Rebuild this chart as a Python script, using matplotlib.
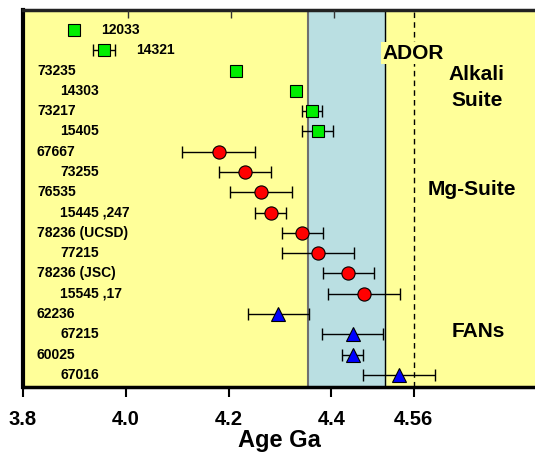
import numpy as np
import matplotlib
matplotlib.use("Agg")
import matplotlib.pyplot as plt

plt.rcParams['font.family'] = ['Liberation Sans', 'DejaVu Sans']
plt.rcParams['font.weight'] = 'bold'

# sample data, top to bottom
samples = ['12033', '14321', '73235', '14303', '73217', '15405',
           '67667', '73255', '76535', '15445 ,247', '78236 (UCSD)', '77215',
           '78236 (JSC)', '15545 ,17', '62236', '67215', '60025', '67016']
ages = [3.899, 3.958, 4.214, 4.332, 4.362, 4.373,
        4.181, 4.232, 4.263, 4.282, 4.343, 4.373,
        4.433, 4.463, 4.297, 4.441, 4.441, 4.532]
errs = [0.0, 0.021, 0.0, 0.0, 0.02, 0.03,
        0.071, 0.05, 0.06, 0.03, 0.04, 0.07,
        0.05, 0.07, 0.06, 0.06, 0.02, 0.07]
suites = ['alkali'] * 6 + ['mg'] * 8 + ['fan'] * 4

band = (4.355, 4.505)   # ADOR band
solar = 4.56            # dashed line
xticks = [3.8, 4.0, 4.2, 4.4, 4.56]
xticklabels = ['3.8', '4.0', '4.2', '4.4', '4.56']

styles = {'alkali': dict(marker='s', color='#00ee00', ms=8.5),
          'mg': dict(marker='o', color='#ff0000', ms=9.5),
          'fan': dict(marker='^', color='#0000ff', ms=10)}

fig = plt.figure(figsize=(5.35, 4.57), dpi=100)
ax = fig.add_axes([23 / 535, 70.5 / 457, 512 / 535, 376.5 / 457])
ax.set_facecolor('#ffff99')

ax.axvspan(band[0], band[1], color='#badfe2', zorder=1)
ax.axvline(band[0], color='#707070', lw=1.5, zorder=2)
ax.axvline(band[1], color='black', lw=1, zorder=2)
ax.axvline(solar, color='black', lw=1, ls=(0, (4, 3)), zorder=2)

rows = np.arange(len(samples))
for i, (s, a, e, k) in enumerate(zip(samples, ages, errs, suites)):
    st = styles[k]
    ax.errorbar(a, i, xerr=e if e > 0 else None, fmt='none', ecolor='black',
                elinewidth=1, capsize=4, capthick=1, zorder=3)
    ax.plot(a, i, linestyle='none', marker=st['marker'], ms=st['ms'],
            mfc=st['color'], mec='black', mew=0.8, zorder=4)
    if i == 0:
        lx = a + 0.053
    elif i == 1:
        lx = a + 0.062
    elif i % 2 == 0:
        lx = 3.827
    else:
        lx = 3.872
    ax.text(lx, i, s, fontsize=10, fontweight='bold', ha='left', va='center',
            zorder=5)

ax.text(4.559, 1.15, 'ADOR', fontsize=15, fontweight='bold', ha='center',
        va='center', zorder=5,
        bbox=dict(facecolor='#ffff99', edgecolor='none', pad=1))
ax.text(4.683, 2.85, 'Alkali\nSuite', fontsize=15, fontweight='bold',
        ha='center', va='center', linespacing=1.45, zorder=5)
ax.text(4.673, 7.85, 'Mg-Suite', fontsize=15, fontweight='bold',
        ha='center', va='center', zorder=5)
ax.text(4.685, 14.85, 'FANs', fontsize=15, fontweight='bold',
        ha='center', va='center', zorder=5)

ax.set_xlim(3.8, 4.796)
ax.set_ylim(17.57, -0.986)
ax.set_yticks([])
ax.set_xticks(xticks)
ax.set_xticklabels(xticklabels, fontsize=14.5, fontweight='bold')
ax.tick_params(axis='x', direction='out', length=7, width=1.5, pad=10)
ax.set_xlabel('Age Ga', fontsize=17, fontweight='bold', labelpad=0)

# small inward ticks along the top edge
top = ax.twiny()
top.set_xlim(ax.get_xlim())
top.set_xticks([4.005, 4.205, 4.405])
top.set_xticklabels([])
top.tick_params(axis='x', direction='in', length=6, width=1, color='#333333')
for sp in top.spines.values():
    sp.set_visible(False)

ax.spines['left'].set_linewidth(3)
ax.spines['bottom'].set_linewidth(2.5)
ax.spines['top'].set_linewidth(2.5)
ax.spines['top'].set_color('#222222')
ax.spines['right'].set_visible(False)

fig.savefig('out.png', dpi=100)
